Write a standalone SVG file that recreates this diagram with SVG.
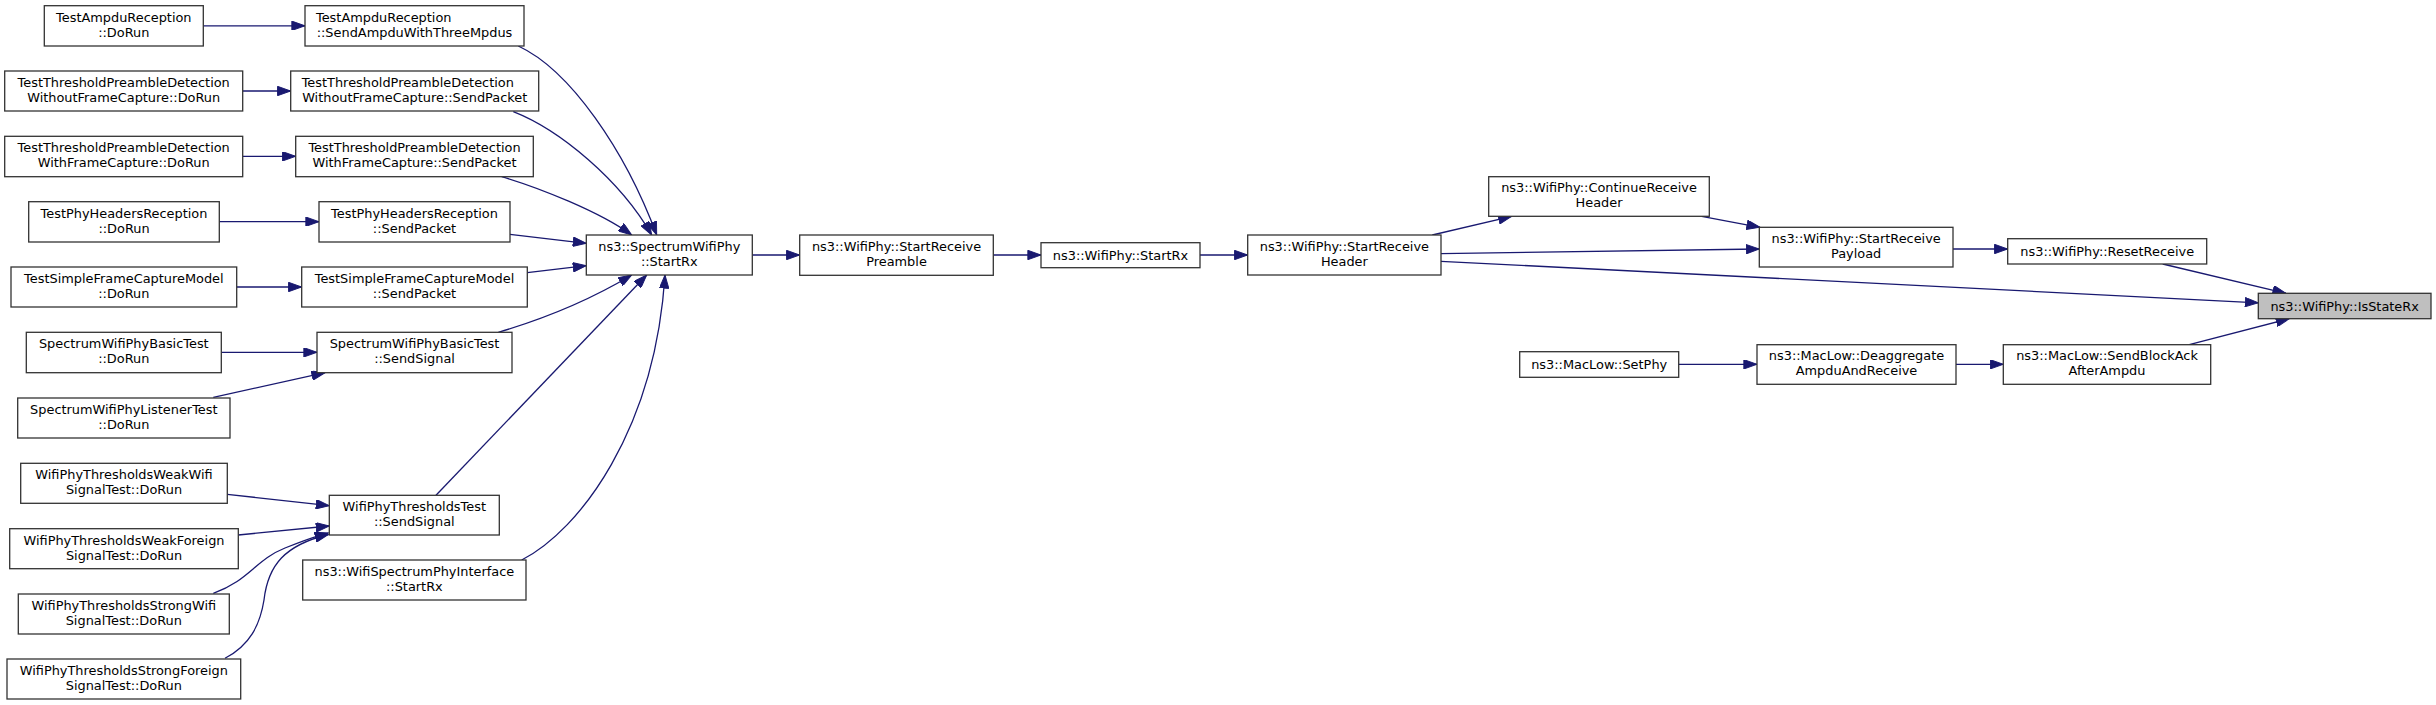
<svg xmlns="http://www.w3.org/2000/svg" width="2436" height="705" viewBox="0 0 2436 705">
<style>
.node rect{fill:#ffffff;stroke:#333333;stroke-width:1.3}
.node.hl rect{fill:#bfbfbf}
.node text{font-family:"DejaVu Sans","Liberation Sans",sans-serif;font-size:12.9px;fill:#000000;text-anchor:middle}
.node text.l{text-anchor:start}
.edges path{fill:none;stroke:#191970;stroke-width:1.3;marker-end:url(#arr)}
</style>
<defs>
<marker id="arr" viewBox="0 0 14 10" markerWidth="14" markerHeight="9.4" refX="14" refY="5" orient="auto" markerUnits="userSpaceOnUse">
<path d="M0,0 L14,5 L0,10 z" fill="#191970" stroke="#191970" stroke-width="1"/>
</marker>
</defs>
<rect width="2436" height="705" fill="#ffffff"/>
<g id="edges" class="edges">
<path d="M203.3,25.8 L305,25.8"/>
<path d="M242.7,91 L290.7,91"/>
<path d="M242.7,156.3 L295.7,156.3"/>
<path d="M219.3,221.7 L319,221.7"/>
<path d="M236.7,287 L301.7,287"/>
<path d="M221.3,352.3 L317,352.3"/>
<path d="M213.3,397.3 L325,372.7"/>
<path d="M227.3,494.3 L329.3,505.7"/>
<path d="M238.3,535 L329.3,526"/>
<path d="M213.3,593.3 C250,580 255,560 285,548 S315,537 328.3,533"/>
<path d="M225,658.3 C250,645 260,625 264,600 C268,565 285,545 328.3,534.5"/>
<path d="M518.3,46 C570,70 625,150 656.7,235"/>
<path d="M513.3,111.7 C560,130 620,180 651.7,235"/>
<path d="M501.7,176.7 C540,188 600,212 631.7,235"/>
<path d="M510,234.3 L586.3,243.3"/>
<path d="M527.3,272.7 L586.3,265.7"/>
<path d="M498.3,332.3 C540,320 590,300 631.7,275"/>
<path d="M436,495.3 L646.7,275"/>
<path d="M521.7,560 C580,530 655,430 665,275"/>
<path d="M752.3,255 L799.7,255"/>
<path d="M993.3,255 L1041,255"/>
<path d="M1200,255 L1247.7,255"/>
<path d="M1432.3,235 L1511.7,216.3"/>
<path d="M1441,253.7 L1759.3,249"/>
<path d="M1441,261.3 L2258.3,302.8"/>
<path d="M1701.7,216.3 L1760,227.3"/>
<path d="M1953,249 L2007.7,249"/>
<path d="M2162.7,264 L2286,293.3"/>
<path d="M1678.7,364.3 L1757,364.3"/>
<path d="M1956,364.3 L2003.3,364.3"/>
<path d="M2189.3,344.7 L2289.3,318.7"/>
</g>
<g id="n1" class="node"><rect x="44.3" y="5.7" width="159" height="40.3"/><text x="123.8" y="21.7">TestAmpduReception</text><text x="123.8" y="36.7">::DoRun</text></g>
<g id="n2" class="node"><rect x="305" y="5.7" width="219" height="40.3"/><text class="l" x="316" y="21.7">TestAmpduReception</text><text x="414.5" y="36.7">::SendAmpduWithThreeMpdus</text></g>
<g id="n3" class="node"><rect x="4.7" y="71" width="238" height="40"/><text x="123.7" y="86.8">TestThresholdPreambleDetection</text><text x="123.7" y="101.8">WithoutFrameCapture::DoRun</text></g>
<g id="n4" class="node"><rect x="290.7" y="71" width="248" height="40"/><text class="l" x="301.7" y="86.8">TestThresholdPreambleDetection</text><text x="414.7" y="101.8">WithoutFrameCapture::SendPacket</text></g>
<g id="n5" class="node"><rect x="4.7" y="136.3" width="238" height="40.4"/><text x="123.7" y="152.3">TestThresholdPreambleDetection</text><text x="123.7" y="167.3">WithFrameCapture::DoRun</text></g>
<g id="n6" class="node"><rect x="295.7" y="136.3" width="237.6" height="40.4"/><text x="414.5" y="152.3">TestThresholdPreambleDetection</text><text x="414.5" y="167.3">WithFrameCapture::SendPacket</text></g>
<g id="n7" class="node"><rect x="28.7" y="201.7" width="190.6" height="40.3"/><text x="124" y="217.6">TestPhyHeadersReception</text><text x="124" y="232.6">::DoRun</text></g>
<g id="n8" class="node"><rect x="319" y="201.7" width="191" height="40.3"/><text x="414.5" y="217.6">TestPhyHeadersReception</text><text x="414.5" y="232.6">::SendPacket</text></g>
<g id="n9" class="node"><rect x="11" y="267" width="225.7" height="40"/><text x="123.85" y="282.8">TestSimpleFrameCaptureModel</text><text x="123.85" y="297.8">::DoRun</text></g>
<g id="n10" class="node"><rect x="301.7" y="267" width="225.6" height="40"/><text x="414.5" y="282.8">TestSimpleFrameCaptureModel</text><text x="414.5" y="297.8">::SendPacket</text></g>
<g id="n11" class="node"><rect x="26.3" y="332.3" width="195" height="40.4"/><text x="123.8" y="348.3">SpectrumWifiPhyBasicTest</text><text x="123.8" y="363.3">::DoRun</text></g>
<g id="n12" class="node"><rect x="317" y="332.3" width="195" height="40.4"/><text x="414.5" y="348.3">SpectrumWifiPhyBasicTest</text><text x="414.5" y="363.3">::SendSignal</text></g>
<g id="n13" class="node"><rect x="17.7" y="398" width="212.3" height="40"/><text x="123.85" y="413.8">SpectrumWifiPhyListenerTest</text><text x="123.85" y="428.8">::DoRun</text></g>
<g id="n14" class="node"><rect x="20.7" y="463.3" width="206.6" height="40"/><text x="124" y="479.1">WifiPhyThresholdsWeakWifi</text><text x="124" y="494.1">SignalTest::DoRun</text></g>
<g id="n15" class="node"><rect x="9.7" y="528.7" width="228.6" height="40"/><text x="124" y="544.5">WifiPhyThresholdsWeakForeign</text><text x="124" y="559.5">SignalTest::DoRun</text></g>
<g id="n16" class="node"><rect x="18.3" y="594" width="211" height="40"/><text x="123.8" y="609.8">WifiPhyThresholdsStrongWifi</text><text x="123.8" y="624.8">SignalTest::DoRun</text></g>
<g id="n17" class="node"><rect x="7" y="659" width="233.7" height="40"/><text x="123.85" y="674.8">WifiPhyThresholdsStrongForeign</text><text x="123.85" y="689.8">SignalTest::DoRun</text></g>
<g id="n18" class="node"><rect x="329.3" y="495.3" width="170" height="39.7"/><text x="414.3" y="511">WifiPhyThresholdsTest</text><text x="414.3" y="526">::SendSignal</text></g>
<g id="n19" class="node"><rect x="302.7" y="560" width="223.3" height="40"/><text x="414.35" y="575.8">ns3::WifiSpectrumPhyInterface</text><text x="414.35" y="590.8">::StartRx</text></g>
<g id="n20" class="node"><rect x="586.3" y="235" width="166" height="40"/><text x="669.3" y="250.8">ns3::SpectrumWifiPhy</text><text x="669.3" y="265.8">::StartRx</text></g>
<g id="n21" class="node"><rect x="799.7" y="235" width="193.6" height="40.3"/><text x="896.5" y="251">ns3::WifiPhy::StartReceive</text><text x="896.5" y="266">Preamble</text></g>
<g id="n22" class="node"><rect x="1041" y="242.7" width="159" height="25"/><text x="1120.5" y="259.7">ns3::WifiPhy::StartRx</text></g>
<g id="n23" class="node"><rect x="1247.7" y="235" width="193.3" height="40"/><text x="1344.35" y="250.8">ns3::WifiPhy::StartReceive</text><text x="1344.35" y="265.8">Header</text></g>
<g id="n24" class="node"><rect x="1488.7" y="176.7" width="220.6" height="39.6"/><text x="1599" y="192.3">ns3::WifiPhy::ContinueReceive</text><text x="1599" y="207.3">Header</text></g>
<g id="n25" class="node"><rect x="1759.3" y="227.3" width="193.7" height="39.7"/><text x="1856.15" y="243">ns3::WifiPhy::StartReceive</text><text x="1856.15" y="258">Payload</text></g>
<g id="n26" class="node"><rect x="2007.7" y="238.7" width="199" height="25.3"/><text x="2107.2" y="255.85">ns3::WifiPhy::ResetReceive</text></g>
<g id="n27" class="node hl"><rect x="2258.3" y="293.3" width="172.7" height="25.4"/><text x="2344.65" y="310.5">ns3::WifiPhy::IsStateRx</text></g>
<g id="n28" class="node"><rect x="1519.7" y="351.7" width="159" height="25.6"/><text x="1599.2" y="369">ns3::MacLow::SetPhy</text></g>
<g id="n29" class="node"><rect x="1757" y="344.7" width="199" height="39.6"/><text x="1856.5" y="360.3">ns3::MacLow::Deaggregate</text><text x="1856.5" y="375.3">AmpduAndReceive</text></g>
<g id="n30" class="node"><rect x="2003.3" y="344.7" width="207.4" height="39.6"/><text x="2107" y="360.3">ns3::MacLow::SendBlockAck</text><text x="2107" y="375.3">AfterAmpdu</text></g>
</svg>
